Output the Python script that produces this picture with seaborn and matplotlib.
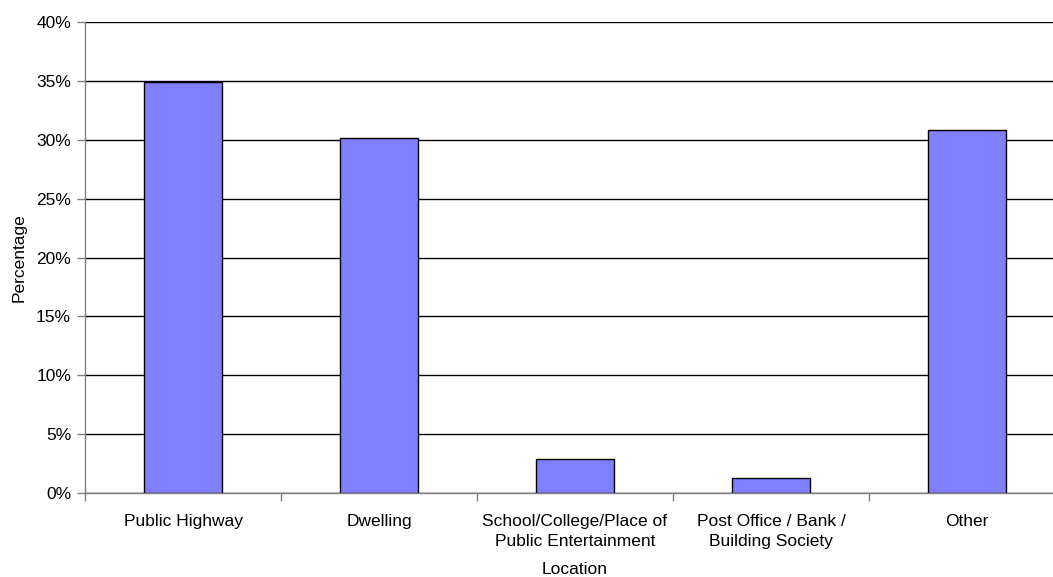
import numpy as np
import pandas as pd
import matplotlib
matplotlib.use("Agg")
import matplotlib.pyplot as plt
import seaborn as sns
from matplotlib.ticker import FixedLocator, PercentFormatter

# Chart data
locations = [
    "Public Highway",
    "Dwelling",
    "School/College/Place of\nPublic Entertainment",
    "Post Office / Bank /\nBuilding Society",
    "Other",
]
percentages = [34.9, 30.15, 2.9, 1.3, 30.85]
y_ticks = [0, 5, 10, 15, 20, 25, 30, 35, 40]

df = pd.DataFrame({"Location": locations, "Percentage": percentages})

sns.set_style("white")
plt.rcParams["font.family"] = ["Liberation Sans", "DejaVu Sans"]
plt.rcParams["text.color"] = "black"
plt.rcParams["xtick.color"] = "black"
plt.rcParams["ytick.color"] = "black"
plt.rcParams["axes.labelcolor"] = "black"

fig = plt.figure(figsize=(10.53, 5.77), dpi=100)
ax = fig.add_axes([85 / 1053, 84 / 577, 980 / 1053, 471 / 577])

# Gridlines behind bars
ax.set_axisbelow(True)
ax.yaxis.grid(True, color="black", linewidth=1)

sns.barplot(data=df, x="Location", y="Percentage", color="#8080FF",
            saturation=1, edgecolor="black", linewidth=1, width=0.4, ax=ax)

ax.set_xlim(-0.5, len(locations) - 0.5)
ax.set_ylim(0, 40)
ax.yaxis.set_major_locator(FixedLocator(y_ticks))
ax.yaxis.set_major_formatter(PercentFormatter(decimals=0))

# Category separators as ticks
ax.xaxis.set_minor_locator(FixedLocator(np.arange(-0.5, len(locations), 1)))
ax.tick_params(axis="x", which="major", length=0, pad=15, labelsize=12.5)
ax.tick_params(axis="x", which="minor", length=6, width=1, color="#808080",
               direction="out", bottom=True)
ax.tick_params(axis="y", length=6, width=1, color="#808080", left=True,
               labelsize=12.5, pad=4)
for lbl in ax.get_xticklabels():
    lbl.set_linespacing(1.45)

for side in ["top", "right"]:
    ax.spines[side].set_visible(False)
for side in ["left", "bottom"]:
    ax.spines[side].set_color("#808080")
    ax.spines[side].set_linewidth(1)

ax.set_xlabel("Location", fontsize=12.5, labelpad=9)
ax.set_ylabel("Percentage", fontsize=12.5, labelpad=7)

fig.savefig("out.png", dpi=100, facecolor="white")
